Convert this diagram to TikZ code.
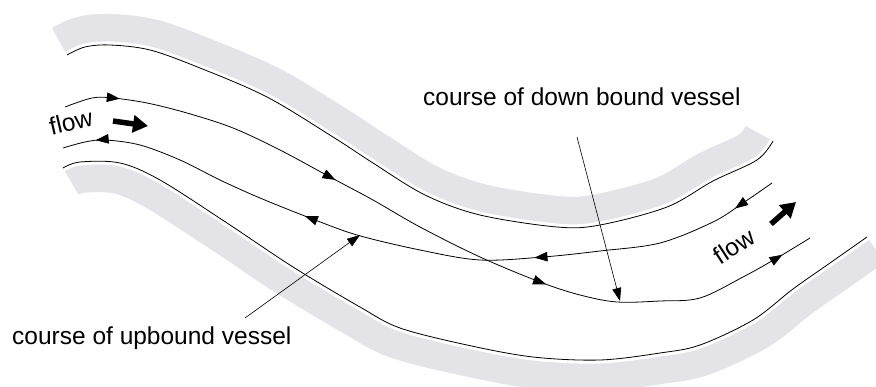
\documentclass[tikz,border=0pt]{standalone}
\usepackage{fontspec}
\setmainfont{Liberation Sans}
\usetikzlibrary{arrows.meta,decorations.markings}
\definecolor{bankgray}{RGB}{227,227,232}
\begin{document}
\begin{tikzpicture}[x=1pt,y=-1pt,
  >={Triangle[length=13pt,width=9.5pt]},
  course/.style={line width=0.8pt, black},
  pointer/.style={line width=0.6pt, black, -{Triangle[length=13pt,width=9pt]}},
  flowarrow/.style={line width=5.5pt, black, -{Triangle[length=15pt,width=17pt]}},
  lbl/.style={font=\fontsize{24.5}{28}\selectfont, inner sep=0pt, text=black},
  ubank/.style={insert path={plot[smooth, tension=0.55] coordinates {(67,55) (85,47) (110,45) (150,50) (200,68) (267,97) (333,137) (373,163) (425,195) (480,215) (557,227) (600,225) (667,207) (713,181) (757,160) (773,141)}}},
  lbank/.style={insert path={plot[smooth, tension=0.55] coordinates {(63,168) (80,162) (120,163) (160,180) (227,223) (293,267) (360,307) (400,328) (467,345) (533,357) (600,360) (660,353) (700,345) (753,320) (793,289) (830,263) (867,237)}}},
  bandgray/.style={bankgray, line width=62pt, line cap=butt},
  bandgap/.style={white, line width=7pt, line cap=butt}
]
\useasboundingbox (0,0) rectangle (876,387);

% upper bank
\begin{scope}
  \clip[ubank] -- (900,141) -- (900,-30) -- (-30,-30) -- (-30,55) -- cycle;
  \draw[bandgray, ubank];
  \draw[bandgap, ubank];
\end{scope}
\draw[course, ubank];

% lower bank
\begin{scope}
  \clip[lbank] -- (900,237) -- (900,420) -- (-30,420) -- (-30,168) -- cycle;
  \draw[bandgray, lbank];
  \draw[bandgap, lbank];
\end{scope}
\draw[course, lbank];

% course of down bound vessel
\draw[course, postaction={decorate}, decoration={markings,
    mark=at position 0.070 with {\arrow{>}},
    mark=at position 0.358 with {\arrow{>}},
    mark=at position 0.650 with {\arrow{>}},
    mark=at position 0.960 with {\arrow{>}}}]
  plot[smooth, tension=0.55] coordinates {(65,107) (92,98) (113,98) (147,103) (187,113) (233,128) (280,150) (330,177) (373,200) (420,227) (480,257) (540,282) (580,295) (617,302) (660,301) (700,298) (743,277) (777,258) (810,238)};

% course of upbound vessel
\draw[course, postaction={decorate}, decoration={markings,
    mark=at position 0.060 with {\arrow{>}},
    mark=at position 0.340 with {\arrow{>}},
    mark=at position 0.655 with {\arrow{>}},
    mark=at position 0.955 with {\arrow{>}}}]
  plot[smooth, tension=0.55] coordinates {(772,183) (743,203) (713,222) (660,243) (600,251) (543,257) (480,260) (420,250) (357,235) (310,218) (260,198) (220,180) (180,160) (140,145) (105,140) (85,142) (63,148)};

% labels
\node[lbl, anchor=base west] (dblabel) at (423,106) {course of down bound vessel};
\node[lbl, anchor=base west] (ublabel) at (12,345) {course of upbound vessel};
\node[lbl, rotate=13] (flowL) at (71,122) {flow};
\node[lbl, rotate=33] (flowR) at (734,246) {flow};

% pointers
\coordinate (dbfrom) at (577,137);
\coordinate (dbto) at (620,301);
\coordinate (ubfrom) at (245,318);
\coordinate (ubto) at (360,235);
\draw[pointer] (dbfrom) -- (dbto);
\draw[pointer] (ubfrom) -- (ubto);

% flow arrows
\coordinate (flA1) at (113,121);
\coordinate (flA2) at (148,126);
\coordinate (flB1) at (771,224);
\coordinate (flB2) at (796,202);
\draw[flowarrow] (flA1) -- (flA2);
\draw[flowarrow] (flB1) -- (flB2);
\end{tikzpicture}
\end{document}
